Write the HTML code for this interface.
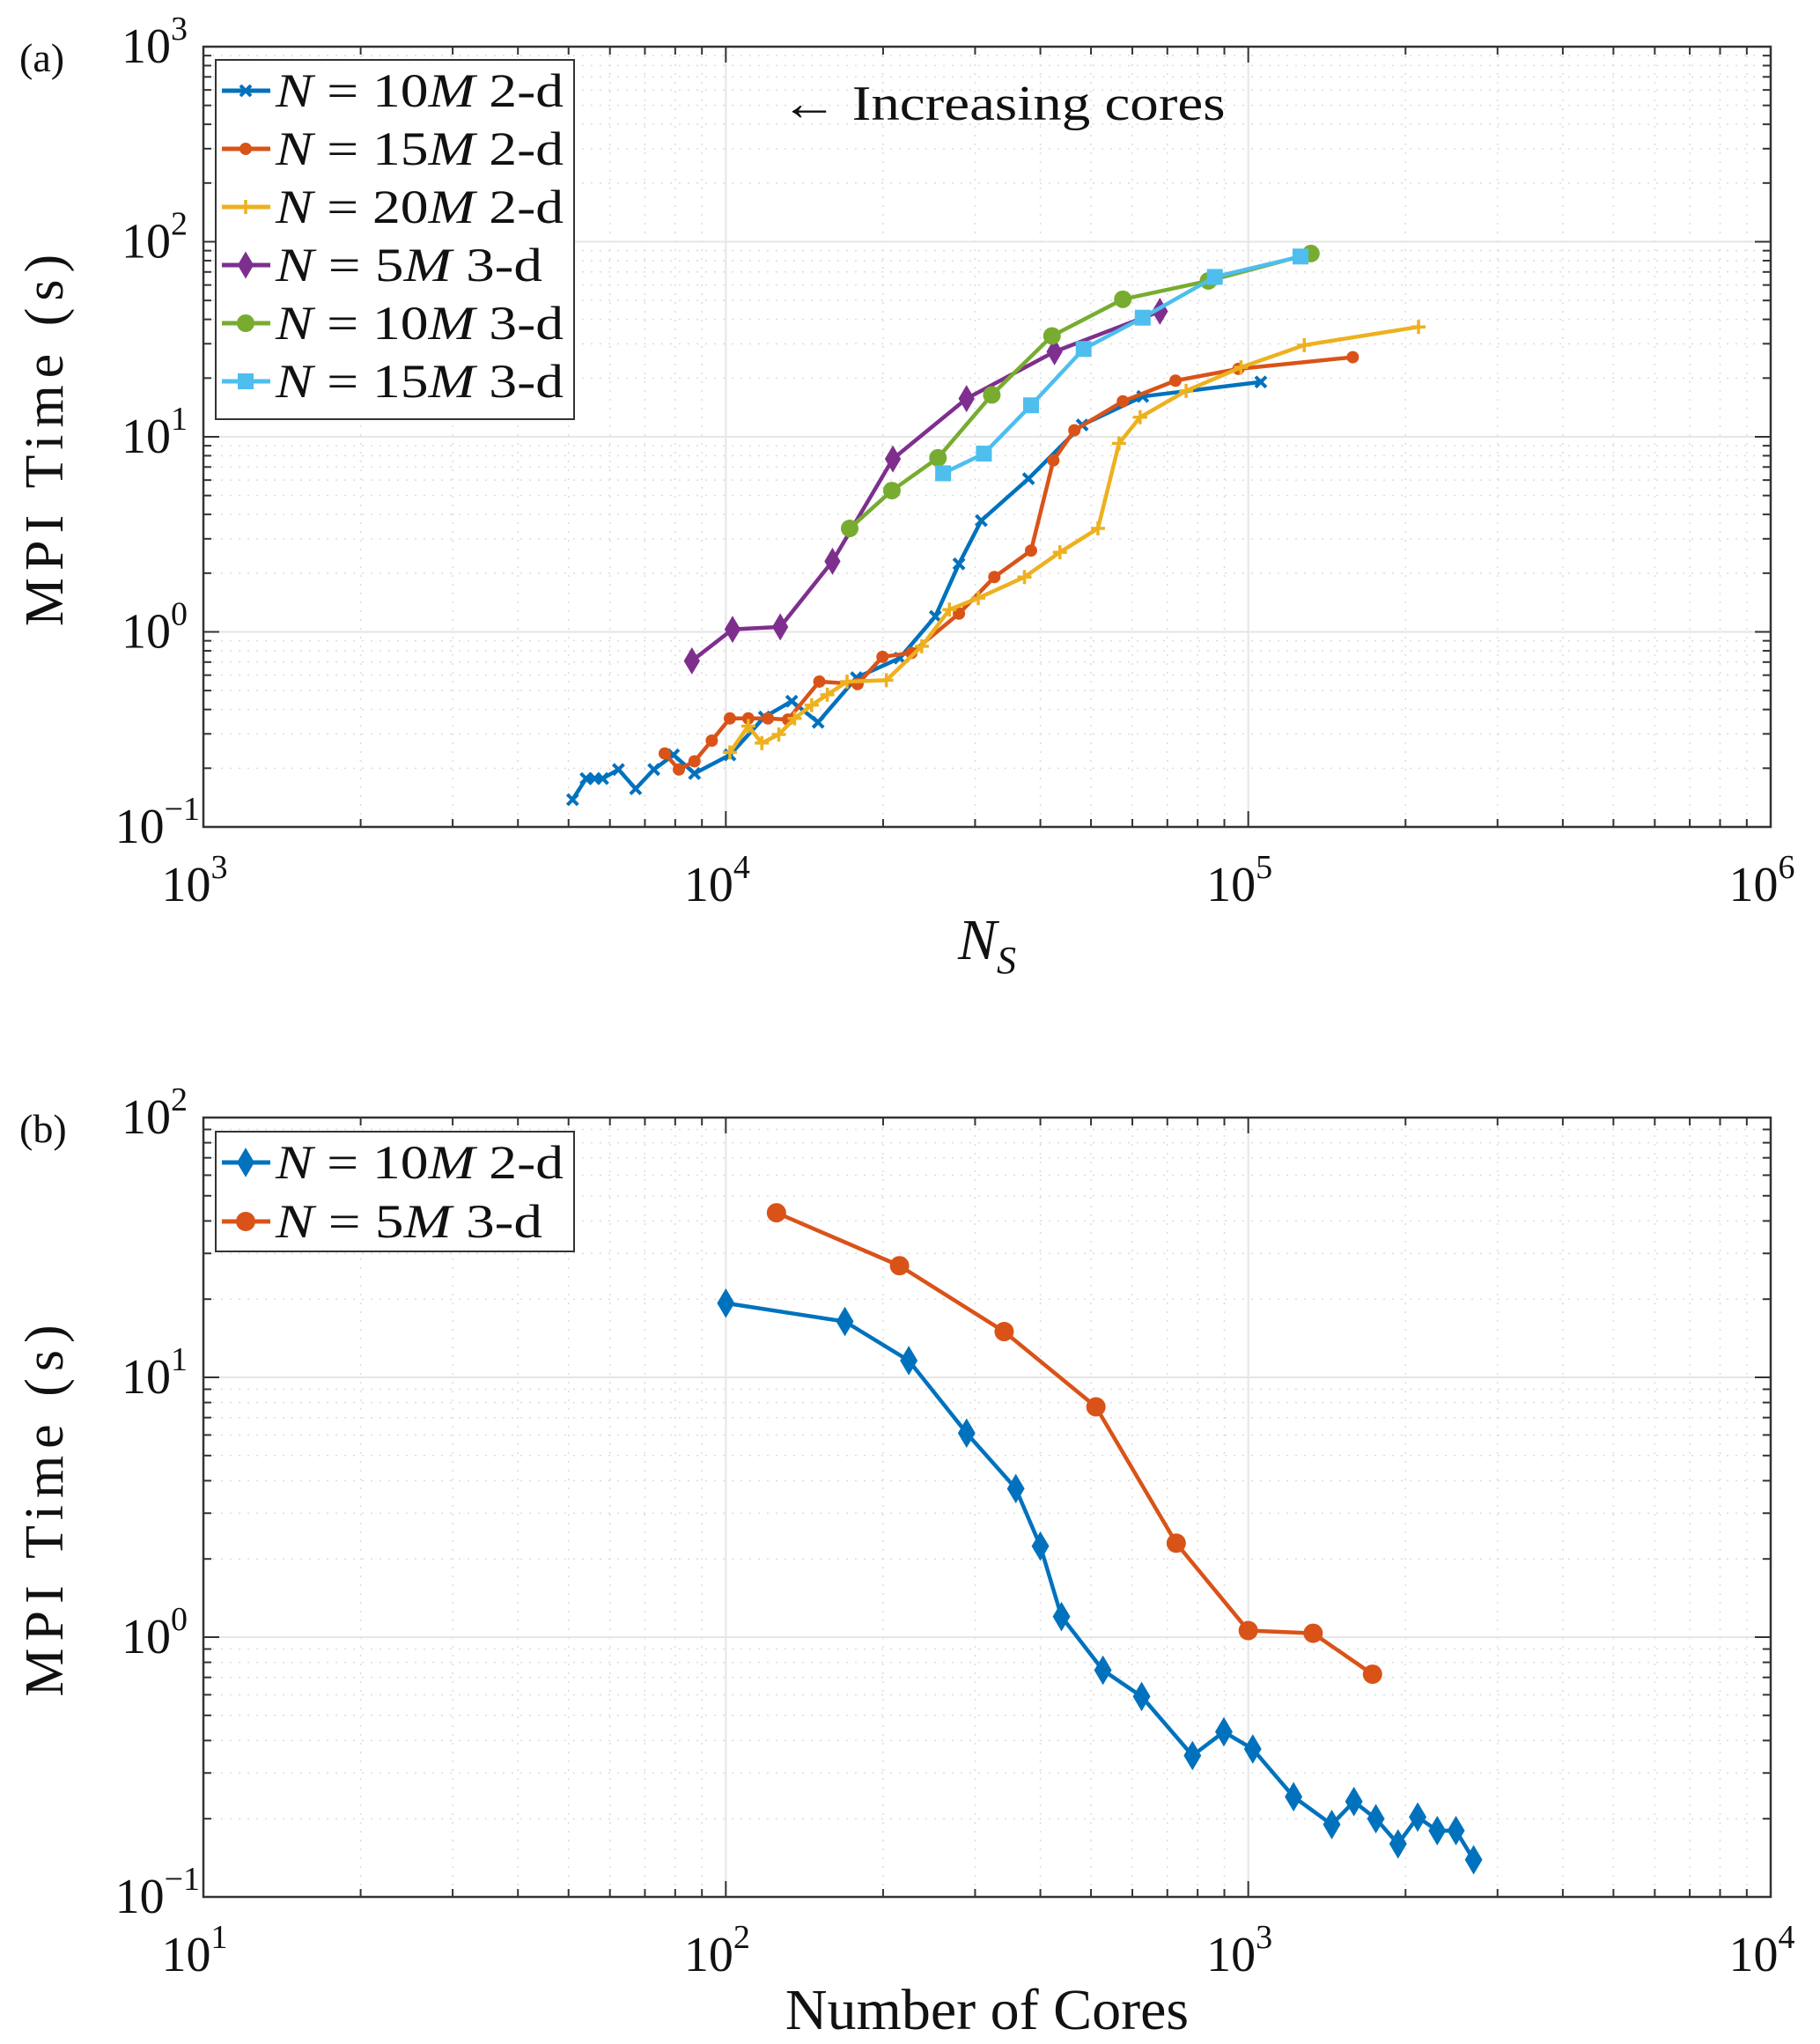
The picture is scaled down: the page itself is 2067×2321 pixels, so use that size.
<!DOCTYPE html>
<html><head><meta charset="utf-8">
<style>
html,body{margin:0;padding:0;background:#fff;}
svg{display:block;font-family:"Liberation Serif","DejaVu Serif",serif;}
</style></head>
<body>
<svg id="fig" width="2067" height="2321" viewBox="0 0 2067 2321" xmlns="http://www.w3.org/2000/svg">
<rect width="2067" height="2321" fill="#fff"/>
<g id="pa"></g>
<g id="pb"></g>
</svg>
<script>
// ---- Panel (a) data ----
const a_blue_x=[5090,5400,5610,5810,6230,6720,7280,7940,8710,10180,11850,13370,15020,17780,21530,25180,27940,30830,37960,48100,62800,105700];
const a_blue_y=[0.138,0.177,0.177,0.177,0.197,0.157,0.197,0.234,0.188,0.234,0.366,0.441,0.344,0.582,0.734,1.2,2.23,3.72,6.1,11.5,16.1,19.1];
const a_orange_x=[7640,8130,8710,9400,10180,11040,12040,13150,15100,17870,19950,22660,27940,32660,38390,42360,46470,57540,72560,95750,158500];
const a_orange_y=[0.238,0.197,0.217,0.277,0.36,0.36,0.36,0.355,0.556,0.54,0.745,0.78,1.24,1.91,2.61,7.57,10.8,15.2,19.4,22.3,25.6];
const a_yellow_x=[10180,11040,11720,12630,13540,14600,15640,17060,20290,23720,26790,30420,37300,43600,51560,56570,62090,76040,96830,128000,211800];
const a_yellow_y=[0.241,0.329,0.269,0.298,0.36,0.421,0.476,0.556,0.565,0.843,1.3,1.49,1.91,2.56,3.39,9.25,12.6,17.2,22.7,29.5,36.6];
const a_purple_x=[8610,10300,12710,16000,20880,28890,42570,67750];
const a_purple_y=[0.71,1.03,1.06,2.3,7.7,15.7,27.3,44];
const a_green_x=[17260,20790,25470,32290,42110,57540,83900,131800];
const a_green_y=[3.39,5.3,7.8,16.4,32.9,50.7,63,87];
const a_cyan_x=[26060,31190,38390,48400,62800,86300,125900];
const a_cyan_y=[6.5,8.2,14.5,28.2,40.8,66,84];
const a_xticks=[3,4,5,6];
const a_yticks=[-1,0,1,2,3];
// ---- Panel (b) data ----
const b_blue_x=[100,169,224,289,359,400,439,527,625,782,898,1020,1221,1445,1593,1755,1935,2110,2300,2498,2700];
const b_blue_y=[19.3,16.4,11.6,6.1,3.73,2.24,1.2,0.746,0.591,0.35,0.432,0.371,0.243,0.19,0.233,0.2,0.16,0.203,0.18,0.18,0.139];
const b_orange_x=[125,215,341,511,728,1000,1331,1729];
const b_orange_y=[43,26.9,15.0,7.7,2.3,1.06,1.035,0.72];
const b_xticks=[1,2,3,4];
const b_yticks=[-1,0,1,2];

const NS="http://www.w3.org/2000/svg";
const C={blue:"#0072BD",orange:"#D95319",yellow:"#EDB120",purple:"#7E2F8E",green:"#77AC30",cyan:"#4DBEEE"};
function el(tag,attrs,parent){const e=document.createElementNS(NS,tag);for(const k in attrs)e.setAttribute(k,attrs[k]);parent.appendChild(e);return e;}

function marker(g,type,x,y,color,s){
  let m;
  if(type==="x"){m=el("path",{d:`M${x-s} ${y-s}L${x+s} ${y+s}M${x-s} ${y+s}L${x+s} ${y-s}`,stroke:color,"stroke-width":4,fill:"none"},g);}
  else if(type==="dot"){m=el("circle",{cx:x,cy:y,r:s,fill:color},g);}
  else if(type==="plus"){m=el("path",{d:`M${x-s} ${y}L${x+s} ${y}M${x} ${y-s}L${x} ${y+s}`,stroke:color,"stroke-width":3.5,fill:"none"},g);}
  else if(type==="diamond"){m=el("path",{d:`M${x} ${y-s*1.35}L${x+s*0.8} ${y}L${x} ${y+s*1.35}L${x-s*0.8} ${y}Z`,fill:color,stroke:color,"stroke-width":2},g);}
  else if(type==="circle"){m=el("circle",{cx:x,cy:y,r:s,fill:color},g);}
  else if(type==="square"){m=el("rect",{x:x-s,y:y-s,width:2*s,height:2*s,fill:color},g);}
  return m;
}

function panel(g,box,xd,yd,xlabel,panelLabel,series,legend,extra){
  const {L,R,T,B}=box;
  const sx=v=>L+(Math.log10(v)-xd[0])/(xd[1]-xd[0])*(R-L);
  const sy=v=>B-(Math.log10(v)-yd[0])/(yd[1]-yd[0])*(B-T);
  const grid=el("g",{},g);
  
  
  for(let d=xd[0];d<xd[1];d++){for(let k=1;k<=9;k++){const x=sx(k*Math.pow(10,d));
    if(k===1){if(d>xd[0])el("line",{x1:x,x2:x,y1:T,y2:B,stroke:"#e6e6e6","stroke-width":2},grid);}
    else{el("line",{x1:x,x2:x,y1:T,y2:B,stroke:"#dcdcdc","stroke-width":1.5,"stroke-dasharray":"2 8"},grid);
      el("line",{x1:x,x2:x,y1:B,y2:B-9,stroke:"#333","stroke-width":2},grid);el("line",{x1:x,x2:x,y1:T,y2:T+9,stroke:"#333","stroke-width":2},grid);}}}
  for(let d=yd[0];d<yd[1];d++){for(let k=1;k<=9;k++){const y=sy(k*Math.pow(10,d));
    if(k===1){if(d>yd[0])el("line",{x1:L,x2:R,y1:y,y2:y,stroke:"#e6e6e6","stroke-width":2},grid);}
    else{el("line",{x1:L,x2:R,y1:y,y2:y,stroke:"#dcdcdc","stroke-width":1.5,"stroke-dasharray":"2 8"},grid);
      el("line",{x1:L,x2:L+9,y1:y,y2:y,stroke:"#333","stroke-width":2},grid);el("line",{x1:R,x2:R-9,y1:y,y2:y,stroke:"#333","stroke-width":2},grid);}}}
  for(let d=xd[0];d<=xd[1];d++){const x=sx(Math.pow(10,d));
    el("line",{x1:x,x2:x,y1:B,y2:B-18,stroke:"#333","stroke-width":2},grid);el("line",{x1:x,x2:x,y1:T,y2:T+18,stroke:"#333","stroke-width":2},grid);}
  for(let d=yd[0];d<=yd[1];d++){const y=sy(Math.pow(10,d));
    el("line",{x1:L,x2:L+18,y1:y,y2:y,stroke:"#333","stroke-width":2},grid);el("line",{x1:R,x2:R-18,y1:y,y2:y,stroke:"#333","stroke-width":2},grid);}
  const frame=el("rect",{x:L,y:T,width:R-L,height:B-T,fill:"none",stroke:"#333","stroke-width":2.5},g);
  
  
  for(const d of series.xticks){const t=el("text",{x:sx(Math.pow(10,d))-10,y:B+84,"font-size":56,"text-anchor":"middle",fill:"#111"},g);
    
    
    t.appendChild(document.createTextNode("10"));const s=el("tspan",{dy:-26,"font-size":38},t);s.textContent=String(d);}
  for(const d of series.yticks){const t=el("text",{x:L-18,y:sy(Math.pow(10,d))+18,"font-size":56,"text-anchor":"end",fill:"#111"},g);
    
    
    t.appendChild(document.createTextNode("10"));const s=el("tspan",{dy:-26,"font-size":38},t);s.textContent=d<0?"\u2212"+(-d):String(d);
    if(d<0){t.setAttribute("x",L-4);}}
  const yl=el("text",{x:0,y:0,"font-size":62,"text-anchor":"middle",fill:"#111","letter-spacing":8,transform:`translate(${L-160},${(T+B)/2}) rotate(-90)`},g);
  
  
  yl.textContent="MPI Time (s)";
  const xl=el("text",{x:(L+R)/2,y:B+150,"font-size":66,"text-anchor":"middle",fill:"#111"},g);
  
  
  if(xlabel==="NS"){const a=el("tspan",{"font-style":"italic"},xl);a.textContent="N";const b=el("tspan",{"font-style":"italic",dy:16,"font-size":44},xl);b.textContent="S";}
  else xl.textContent=xlabel;
  const pl=el("text",{x:22,y:T+28,"font-size":46,fill:"#111"},g);
  
  
  pl.textContent=panelLabel;
  if(extra){const t=el("text",{x:extra.x,y:extra.y,"font-size":56,"text-anchor":"middle",fill:"#111",textLength:505,lengthAdjust:"spacingAndGlyphs"},g);
    
    
    t.textContent="\u2190 Increasing cores";}
  for(const s of series.list){
    const sg=el("g",{},g);
    
    
    const pts=s.x.map((v,i)=>[sx(v),sy(s.y[i])]);
    el("polyline",{points:pts.map(p=>p.join(",")).join(" "),fill:"none",stroke:s.color,"stroke-width":4.5,"stroke-linejoin":"round"},sg);
    for(const p of pts){marker(sg,s.m,p[0],p[1],s.color,s.ms);}
  }
  const lg=el("g",{},g);
  
  
  el("rect",{x:legend.x,y:legend.y,width:legend.w,height:legend.h,fill:"#fff",stroke:"#333","stroke-width":2},lg);
  series.list.forEach((s,i)=>{
    const y=legend.y0+i*legend.dy;
    const e=el("g",{},lg);
    
    
    el("line",{x1:legend.x+7,x2:legend.x+62,y1:y,y2:y,stroke:s.color,"stroke-width":5},e);
    marker(e,s.m,legend.x+34,y,s.color,s.ms);
    const t=el("text",{x:legend.x+68,y:y+18,"font-size":54,fill:"#111",textLength:s.num.length>1?327:303,lengthAdjust:"spacingAndGlyphs"},e);
    const n=el("tspan",{"font-style":"italic"},t);n.textContent="N";
    const eq=el("tspan",{},t);eq.textContent=" = "+s.num;
    const mm=el("tspan",{"font-style":"italic"},t);mm.textContent="M";
    const r=el("tspan",{},t);r.textContent=" "+s.dim;
  });
}

panel(document.getElementById("pa"),{L:231,R:2011,T:53,B:939},[3,6],[-1,3],"NS","(a)",
 {xticks:a_xticks,yticks:a_yticks,list:[
  {name:"series-10m-2d",x:a_blue_x,y:a_blue_y,color:C.blue,m:"x",ms:6,num:"10",dim:"2-d"},
  {name:"series-15m-2d",x:a_orange_x,y:a_orange_y,color:C.orange,m:"dot",ms:7,num:"15",dim:"2-d"},
  {name:"series-20m-2d",x:a_yellow_x,y:a_yellow_y,color:C.yellow,m:"plus",ms:8,num:"20",dim:"2-d"},
  {name:"series-5m-3d",x:a_purple_x,y:a_purple_y,color:C.purple,m:"diamond",ms:10,num:"5",dim:"3-d"},
  {name:"series-10m-3d",x:a_green_x,y:a_green_y,color:C.green,m:"circle",ms:10,num:"10",dim:"3-d"},
  {name:"series-15m-3d",x:a_cyan_x,y:a_cyan_y,color:C.cyan,m:"square",ms:9,num:"15",dim:"3-d"}]},
 {x:245,y:68,w:407,h:408,y0:103,dy:66},{x:1139,y:136});

panel(document.getElementById("pb"),{L:231,R:2011,T:1269,B:2154},[1,4],[-1,2],"Number of Cores","(b)",
 {xticks:b_xticks,yticks:b_yticks,list:[
  {name:"series-10m-2d-cores",x:b_blue_x,y:b_blue_y,color:C.blue,m:"diamond",ms:11,num:"10",dim:"2-d"},
  {name:"series-5m-3d-cores",x:b_orange_x,y:b_orange_y,color:C.orange,m:"circle",ms:11,num:"5",dim:"3-d"}]},
 {x:245,y:1285,w:407,h:136,y0:1320,dy:67},null);
</script>
</body></html>
